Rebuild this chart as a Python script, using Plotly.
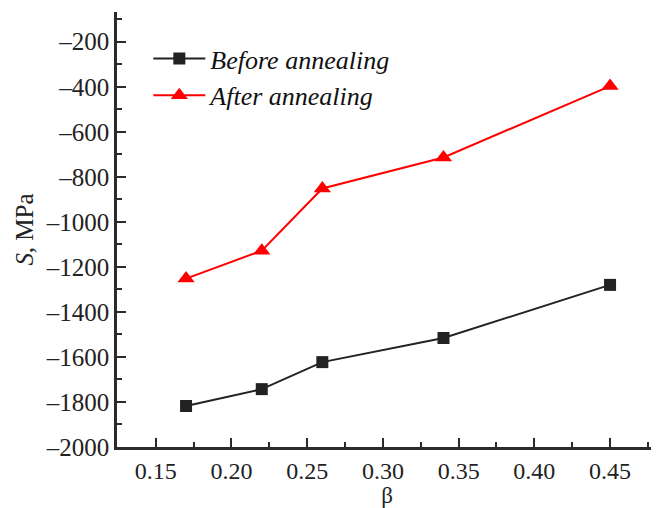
import plotly.graph_objects as go

beta = [0.17, 0.22, 0.26, 0.34, 0.45]
before = [-1818, -1743, -1623, -1516, -1280]
after = [-1252, -1128, -852, -714, -397]

y_ticks = [-200, -400, -600, -800, -1000, -1200, -1400, -1600, -1800, -2000]
y_ticktext = ["\u2013" + str(abs(v)) for v in y_ticks]
x_ticks = [0.15, 0.20, 0.25, 0.30, 0.35, 0.40, 0.45]
x_ticktext = ["%.2f" % v for v in x_ticks]

font = "Liberation Serif, serif"
axcol = "#2b2b2b"

fig = go.Figure()
fig.add_trace(go.Scatter(
    x=beta, y=before, mode="lines+markers", name="<i>Before annealing</i>",
    line=dict(color="#222222", width=2),
    marker=dict(symbol="square", size=12, color="#222222"),
))
fig.add_trace(go.Scatter(
    x=beta, y=after, mode="lines+markers", name="<i>After annealing</i>",
    line=dict(color="#ff0000", width=2),
    marker=dict(symbol="triangle-up", size=15, color="#ff0000"),
))

# page body has an 8px default margin, so the figure is sized 8px smaller
fig.update_layout(
    width=651, height=500,
    margin=dict(l=109, r=2, t=4, b=61),
    paper_bgcolor="white", plot_bgcolor="white",
    font=dict(family=font, size=25, color="#222222"),
    showlegend=True,
    legend=dict(x=0.058, y=0.947, xanchor="left", yanchor="top",
                bgcolor="rgba(0,0,0,0)", font=dict(size=26, family=font, color="#111111"),
                itemwidth=52, tracegroupgap=0),
    xaxis=dict(
        range=[0.1244, 0.481], tickvals=x_ticks, ticktext=x_ticktext,
        ticks="inside", ticklen=9, tickwidth=1.5, tickcolor=axcol,
        showline=True, linecolor=axcol, linewidth=2.5, showgrid=False, zeroline=False,
        automargin=False,
        minor=dict(ticks="inside", ticklen=5, tickwidth=1.5, tickcolor=axcol,
                   tick0=0.125, dtick=0.025, showgrid=False),
        title=dict(text="β", font=dict(size=23, family=font), standoff=5),
        tickfont=dict(size=24, family=font, color="#222222"),
    ),
    yaxis=dict(
        range=[-2000, -68], tickvals=y_ticks, ticktext=y_ticktext,
        ticks="inside", ticklen=9, tickwidth=1.5, tickcolor=axcol,
        showline=True, linecolor=axcol, linewidth=2.5, showgrid=False, zeroline=False,
        automargin=False,
        minor=dict(ticks="inside", ticklen=5, tickwidth=1.5, tickcolor=axcol,
                   tick0=-2000, dtick=100, showgrid=False),
        title=dict(text="<i>S</i>, MPa", font=dict(size=25, family=font), standoff=6),
        tickfont=dict(size=25, family=font, color="#222222"),
    ),
)

fig.write_html("out.html")
